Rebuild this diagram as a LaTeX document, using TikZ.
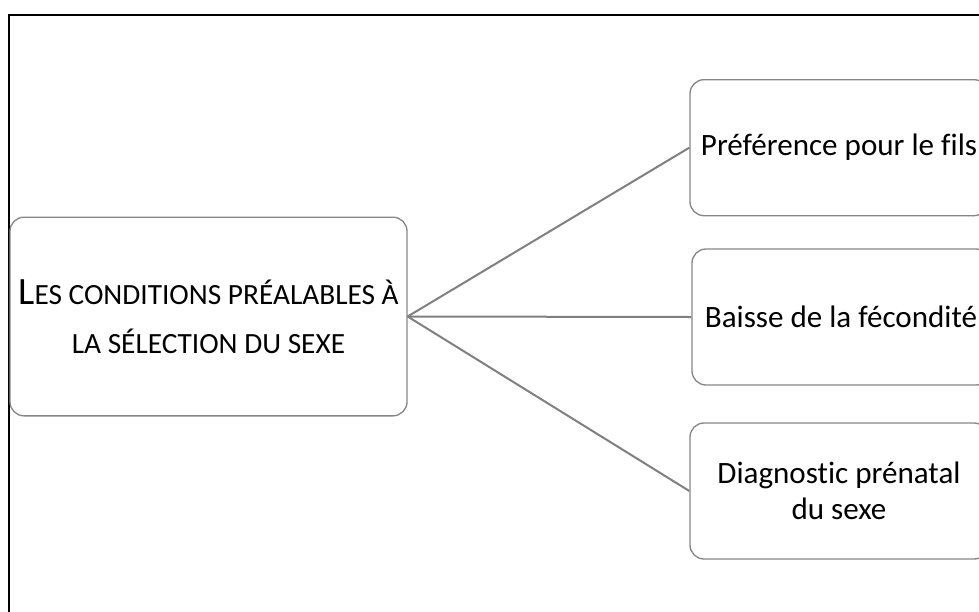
\documentclass[tikz,border=0pt]{standalone}
\usepackage{fontspec}
\setmainfont{Carlito}[Ligatures=NoCommon]
\usetikzlibrary{positioning}

\newcommand{\grandcap}[1]{{\fontsize{29pt}{38pt}\selectfont #1}}

\begin{document}
\begin{tikzpicture}[x=0.75pt, y=-0.75pt,
    boite/.style={draw=gray!95, line width=1pt, rounded corners=10.5pt, align=center, inner sep=0pt},
    lien/.style={draw=gray, line width=1.5pt}]
          \useasboundingbox (0,0) rectangle (979,611);
          \clip (0,0) rectangle (979,611);
          \draw[line width=1.6pt] (9,15) rectangle (1020,650);

          \node[boite, minimum width=297.75pt, minimum height=149pt,
                font=\fontsize{22pt}{37pt}\selectfont] (cond) at (208.5,316.5)
                {\grandcap{L}ES CONDITIONS PRÉALABLES À\\LA SÉLECTION DU SEXE};
          \node[boite, minimum width=223.5pt, minimum height=102pt,
                font=\fontsize{23.3pt}{27pt}\selectfont] (baisse) at (841,317) {Baisse de la fécondité};
          \node[boite, minimum width=223.5pt, minimum height=102pt,
                font=\fontsize{23.3pt}{27pt}\selectfont, above=24pt of baisse, xshift=-1.5pt] (pref) {Préférence pour le fils};
          \node[boite, minimum width=223.5pt, minimum height=102pt,
                font=\fontsize{23.3pt}{27pt}\selectfont, below=27.5pt of baisse, xshift=-1.5pt] (diag) {Diagnostic prénatal\\du sexe};

          \draw
          (cond.east) edge[lien] (pref.west)
          (cond.east) edge[lien] (baisse.west)
          (cond.east) edge[lien] (diag.west);
        \end{tikzpicture}
\end{document}
